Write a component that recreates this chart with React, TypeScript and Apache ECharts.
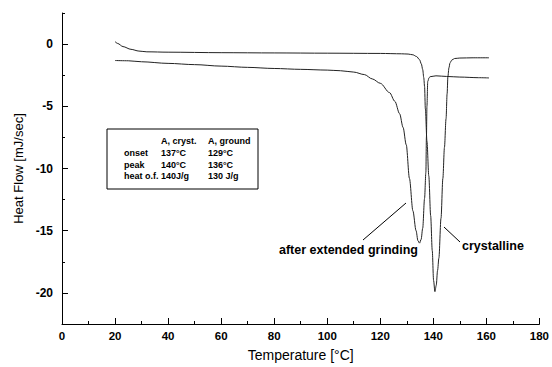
import React, { useEffect, useRef } from "react";
import * as echarts from "echarts";

// Temperature [°C], Heat Flow [mJ/sec]
const crystalline: [number, number][] = [
  [20, 0.2], [21, 0.05], [23, -0.2], [26, -0.42], [29, -0.56], [32, -0.62], [40, -0.65],
  [60, -0.69], [80, -0.71], [100, -0.73], [120, -0.75], [128, -0.78], [130.5, -0.8],
  [132.3, -0.86], [133.7, -1.0], [134.8, -1.25], [135.5, -1.6], [136, -2.05], [136.4, -2.7],
  [136.7, -3.4], [137.0, -5.2], [137.6, -7.8], [138.3, -10.6], [139.0, -13.8], [139.6, -16.6],
  [140.1, -19.0], [140.6, -19.9], [141.1, -19.4], [141.6, -18.2], [142.1, -17.2], [142.9, -14.0],
  [143.6, -10.8], [144.2, -8.3], [144.8, -6.0], [145.2, -4.0], [145.5, -2.6], [145.9, -1.9],
  [146.3, -1.5], [147, -1.28], [148, -1.16], [150, -1.12], [155, -1.1], [161, -1.1],
];

const ground: [number, number][] = [
  [20, -1.32], [25, -1.34], [30, -1.42], [40, -1.55], [50, -1.65], [60, -1.77], [70, -1.87],
  [80, -1.96], [90, -2.03], [100, -2.09], [105, -2.14], [110, -2.25], [114, -2.45], [117, -2.8],
  [120, -3.15], [123.5, -3.9], [125.5, -4.6], [127.3, -5.6], [128.6, -6.7], [129.8, -8.1],
  [131, -10.8], [132.3, -13.4], [133.5, -15.0], [134.2, -15.8], [134.8, -16.0], [135.4, -15.7],
  [136, -14.8], [136.7, -12.4], [137.2, -10.3], [137.4, -7.5], [137.6, -5], [137.9, -3.0],
  [138.4, -2.7], [138.8, -2.62], [141, -2.55], [145, -2.6], [150, -2.65], [157, -2.7], [161, -2.72],
];

const yMajorTicks = [-20, -15, -10, -5, 0];
const yMinorTicks = [-22.5, -17.5, -12.5, -7.5, -2.5, 2.5];

const tableHeader = ["", "A, cryst.", "A, ground"];
const tableRows = [
  ["onset", "137°C", "129°C"],
  ["peak", "140°C", "136°C"],
  ["heat o.f.", "140J/g", "130 J/g"],
];

const labelGround = "after extended grinding";
const labelCryst = "crystalline";

const FONT = '"Liberation Sans", Arial, Helvetica, sans-serif';

export default function App() {
  const ref = useRef<HTMLDivElement>(null);
  useEffect(() => {
    document.body.style.margin = "0";
    const chart = echarts.init(ref.current!, null, { renderer: "svg" });

    const colX = [124, 161, 208];
    const rowY = [141, 153, 164.5, 176];
    const tableTexts: any[] = [];
    [tableHeader, ...tableRows].forEach((row, ri) => {
      row.forEach((cell, ci) => {
        if (!cell) return;
        tableTexts.push({
          type: "text",
          z: 101,
          style: {
            text: cell,
            x: colX[ci],
            y: rowY[ri],
            fill: "#000",
            fontSize: 9,
            fontWeight: "bold",
            fontFamily: FONT,
            align: "left",
            verticalAlign: "middle",
          },
        });
      });
    });

    const lineStyle = { color: "#222", width: 1 };
    const isMajor = (v: number) => yMajorTicks.some((t) => Math.abs(t - v) < 1e-6);

    chart.setOption({
      animation: false,
      backgroundColor: "#fff",
      textStyle: { color: "#000", fontFamily: FONT },
      grid: { left: 62, right: 12, top: 13, bottom: 40 },
      xAxis: {
        type: "value",
        min: 0,
        max: 180,
        interval: 20,
        name: "Temperature [°C]",
        nameLocation: "middle",
        nameGap: 24,
        nameTextStyle: { color: "#000", fontSize: 14, fontFamily: FONT },
        axisLine: { show: true, onZero: false, lineStyle: { color: "#000", width: 1 } },
        axisTick: { show: true, inside: true, length: 6, lineStyle: { color: "#000" } },
        minorTick: { show: true, splitNumber: 2, length: 3, lineStyle: { color: "#000" } },
        splitLine: { show: false },
        axisLabel: { color: "#000", fontSize: 11.5, fontWeight: "bold", fontFamily: FONT, margin: 6 },
      },
      yAxis: [
        {
          type: "value",
          min: -22.5,
          max: 2.5,
          interval: 2.5,
          name: "Heat Flow [mJ/sec]",
          nameLocation: "middle",
          nameGap: 35,
          nameTextStyle: { color: "#000", fontSize: 13, fontFamily: FONT },
          axisLine: { show: true, onZero: false, lineStyle: { color: "#000", width: 1 } },
          axisTick: { show: true, inside: true, length: 6, customValues: yMajorTicks, lineStyle: { color: "#000" } },
          axisLabel: {
            color: "#000",
            fontSize: 12,
            fontWeight: "bold",
            fontFamily: FONT,
            margin: 9,
            formatter: (v: number) => (isMajor(v) ? String(Math.round(v)) : ""),
          },
          splitLine: { show: false },
        },
        {
          type: "value",
          min: -22.5,
          max: 2.5,
          interval: 2.5,
          position: "left",
          axisLine: { show: false },
          axisTick: { show: true, inside: true, length: 3, customValues: yMinorTicks, lineStyle: { color: "#000" } },
          axisLabel: { show: false },
          splitLine: { show: false },
        },
      ],
      series: [
        {
          type: "line",
          data: crystalline,
          showSymbol: false,
          smooth: 0.3,
          smoothMonotone: "x",
          lineStyle,
          yAxisIndex: 0,
        },
        {
          type: "line",
          data: ground,
          showSymbol: false,
          smooth: 0.3,
          smoothMonotone: "x",
          lineStyle,
          yAxisIndex: 0,
        },
      ],
      graphic: [
        {
          type: "rect",
          z: 100,
          shape: { x: 107, y: 129, width: 151, height: 60 },
          style: { fill: "#fff", stroke: "#000", lineWidth: 1 },
        },
        ...tableTexts,
        {
          type: "line",
          z: 100,
          shape: { x1: 363, y1: 240, x2: 406, y2: 203 },
          style: { stroke: "#000", lineWidth: 1 },
        },
        {
          type: "line",
          z: 100,
          shape: { x1: 460, y1: 242, x2: 444, y2: 227 },
          style: { stroke: "#000", lineWidth: 1 },
        },
        {
          type: "text",
          z: 100,
          style: {
            text: labelGround,
            x: 279,
            y: 250,
            fill: "#000",
            fontSize: 12.5,
            fontWeight: "bold",
            fontFamily: FONT,
            align: "left",
            verticalAlign: "middle",
          },
        },
        {
          type: "text",
          z: 100,
          style: {
            text: labelCryst,
            x: 462,
            y: 246,
            fill: "#000",
            fontSize: 12.5,
            fontWeight: "bold",
            fontFamily: FONT,
            align: "left",
            verticalAlign: "middle",
          },
        },
      ],
    });
    return () => chart.dispose();
  }, []);
  return (
    <div
      ref={ref}
      style={{ width: 552, height: 367, position: "fixed", left: 0, top: 0, background: "#fff" }}
    />
  );
}
